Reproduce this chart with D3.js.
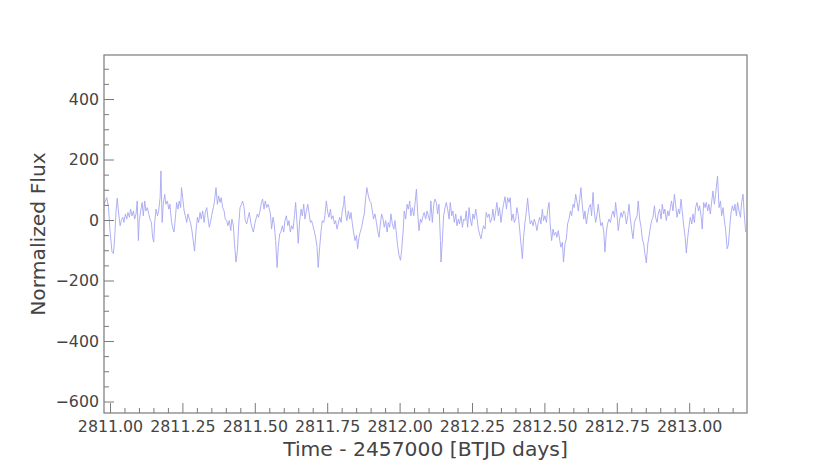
<!DOCTYPE html>
<html>
<head>
<meta charset="utf-8">
<script src="https://cdn.jsdelivr.net/npm/d3@7"></script>
<style>
  html, body { margin: 0; padding: 0; background: #fff; }
  svg { display: block; font-family: "DejaVu Sans", sans-serif; }
</style>
</head>
<body>
<svg id="chart" width="830" height="465"></svg>
<script>
// ---- Data ----
const time = [
  // segment 1
  2810.979,2810.989,2810.995,2811.000,
  2811.007,2811.012,2811.016,2811.021,2811.025,2811.030,2811.035,2811.039,2811.044,2811.048,2811.053,2811.058,2811.062,2811.067,2811.071,2811.076,2811.081,2811.085,2811.090,2811.094,
  2811.098,
  2811.101,2811.106,2811.111,2811.115,2811.120,2811.124,2811.129,2811.134,2811.138,2811.143,2811.147,
  2811.151,
  2811.154,2811.159,2811.164,2811.168,2811.173,
  2811.176,
  2811.180,2811.184,2811.189,2811.193,2811.198,2811.203,2811.207,2811.212,2811.216,2811.221,2811.226,2811.230,2811.235,2811.239,2811.244,
  2811.247,
  2811.251,2811.256,2811.260,2811.265,2811.269,2811.274,2811.279,2811.283,2811.288,2811.292,
  2811.297,2811.302,2811.306,2811.311,2811.315,2811.320,2811.325,2811.329,2811.334,2811.338,
  2811.343,2811.348,2811.352,2811.357,2811.361,2811.366,2811.371,2811.375,2811.380,2811.384,
  2811.389,2811.394,2811.398,2811.403,2811.407,2811.412,2811.417,2811.421,2811.426,2811.430,
  2811.435,2811.440,2811.444,2811.449,2811.454,2811.458,2811.463,2811.467,2811.472,2811.477,
  2811.481,2811.486,2811.490,2811.495,2811.500,2811.504,2811.509,2811.513,2811.518,2811.523,
  2811.527,2811.532,2811.536,2811.541,2811.546,
  // segment 2
  2811.549,2811.554,2811.558,2811.563,2811.567,2811.572,2811.577,2811.581,2811.586,2811.590,
  2811.595,2811.600,2811.604,2811.609,2811.614,2811.618,2811.623,2811.627,2811.632,2811.637,
  2811.641,2811.646,2811.650,2811.655,2811.660,2811.664,2811.669,2811.673,2811.678,2811.683,
  2811.687,2811.692,2811.696,2811.701,2811.706,2811.710,2811.715,2811.719,2811.724,2811.729,
  2811.733,2811.738,2811.742,2811.747,2811.752,2811.756,2811.761,2811.765,2811.770,2811.775,
  2811.779,2811.784,2811.788,2811.793,2811.798,2811.802,2811.807,
  2811.809,
  2811.814,2811.818,2811.823,2811.828,2811.832,2811.837,2811.841,2811.846,2811.851,2811.855,
  2811.860,2811.864,2811.869,2811.874,2811.878,2811.883,2811.887,2811.892,2811.897,2811.901,
  2811.906,2811.910,2811.915,2811.920,2811.924,2811.929,2811.933,2811.938,2811.943,2811.947,
  2811.952,2811.957,2811.961,2811.966,2811.970,2811.975,2811.980,2811.984,2811.989,2811.993,
  2811.998,2812.003,2812.007,2812.012,2812.016,2812.021,2812.026,2812.030,2812.035,2812.039,
  2812.044,2812.049,2812.053,2812.058,2812.062,2812.067,2812.072,2812.076,2812.081,2812.085,
  2812.090,2812.095,2812.099,
  // segment 3
  2812.104,2812.108,2812.113,2812.118,2812.122,2812.127,2812.131,2812.136,2812.141,
  2812.143,
  2812.148,2812.152,2812.157,2812.161,2812.166,2812.171,2812.175,2812.180,2812.184,2812.189,
  2812.194,2812.198,2812.203,2812.207,2812.212,2812.217,2812.221,2812.226,2812.230,2812.235,
  2812.240,2812.244,2812.249,2812.253,2812.258,2812.263,2812.267,2812.272,2812.276,2812.281,
  2812.286,2812.290,2812.295,2812.299,2812.304,2812.309,2812.313,2812.318,2812.322,2812.327,
  2812.332,2812.336,2812.341,2812.345,2812.350,2812.355,2812.359,2812.364,2812.369,2812.373,
  2812.378,2812.382,2812.387,2812.392,2812.396,2812.401,2812.405,2812.410,2812.415,2812.419,
  2812.424,2812.428,2812.433,2812.438,2812.442,2812.447,2812.451,2812.456,2812.461,2812.465,
  2812.470,2812.474,2812.479,2812.484,2812.488,2812.493,2812.497,2812.502,2812.507,2812.511,
  2812.516,2812.520,2812.525,2812.530,2812.534,2812.539,2812.543,2812.548,2812.553,2812.557,
  2812.562,2812.566,2812.571,2812.576,2812.580,2812.585,2812.590,2812.594,2812.599,2812.603,
  2812.608,2812.613,2812.617,2812.622,2812.626,2812.631,2812.636,2812.640,2812.645,2812.649,
  2812.654,
  // segment 4
  2812.659,2812.663,2812.668,2812.672,2812.677,2812.682,2812.686,2812.691,2812.695,2812.700,
  2812.705,2812.709,2812.714,2812.718,2812.723,2812.728,2812.732,2812.737,2812.742,2812.746,
  2812.751,2812.755,2812.760,2812.765,2812.769,2812.774,2812.778,2812.783,2812.788,2812.792,
  2812.797,2812.801,2812.806,2812.811,2812.815,2812.820,2812.824,2812.829,2812.834,2812.838,
  2812.843,2812.847,2812.852,2812.857,2812.861,2812.866,2812.870,2812.875,2812.880,2812.884,
  2812.889,2812.893,2812.898,2812.903,2812.907,2812.912,2812.916,2812.921,2812.926,2812.930,
  2812.935,2812.939,2812.944,2812.949,2812.953,2812.958,2812.963,2812.967,2812.972,2812.976,
  2812.981,2812.986,2812.990,2812.995,2812.999,2813.004,2813.009,2813.013,2813.018,2813.022,
  2813.027,2813.032,2813.036,2813.041,2813.045,2813.050,2813.055,2813.059,2813.064,2813.068,
  2813.073,2813.078,2813.082,2813.087,2813.091,2813.096,
  2813.098,
  2813.103,2813.108,2813.112,2813.117,2813.121,2813.126,2813.131,2813.135,2813.140,2813.144,
  2813.149,2813.154,2813.158,2813.163,2813.167,2813.172,2813.177,2813.181,2813.186,2813.190,
  2813.195
];

const flux = [
  // segment 1
  52,74,41,-35,
  -106,-111,-62,30,72,20,-19,-2,9,-8,20,3,25,9,36,14,30,3,20,63,
  -68,
  -2,30,58,14,63,30,41,20,3,-8,-57,
  -73,
  -13,36,14,30,74,
  162,
  -8,52,85,52,63,36,52,-2,-24,-40,9,58,36,63,41,
  107,
  74,30,14,-8,20,3,-13,-35,-73,-103,
  -35,9,-8,25,3,30,-8,25,41,9,
  -24,-2,20,41,63,107,52,80,58,74,
  41,30,3,-2,-19,-2,-35,3,-19,-79,
  -139,-101,-24,41,52,63,41,-2,-13,9,
  25,-8,-24,-40,-13,3,20,9,30,58,
  69,36,63,41,52,
  // segment 2
  41,20,-30,9,-13,-68,-157,-90,-46,-40,
  -19,-40,-2,14,-19,-2,-40,-19,-30,14,
  58,-13,-77,-2,36,14,52,3,30,52,
  25,-8,-2,-19,-40,-57,-90,-157,-90,-35,
  -2,-8,14,63,25,9,36,3,14,-13,
  -2,-30,-13,9,-8,30,52,
  80,
  20,-2,30,3,25,-13,-40,-68,-51,-95,
  -57,-40,-24,3,20,74,107,80,63,58,
  30,3,20,-8,-35,-57,-19,20,3,-24,
  -2,-40,-8,-24,20,-13,-30,-2,-46,-84,
  -117,-133,-101,-40,30,3,52,36,63,14,
  41,14,52,102,30,-35,3,-8,14,25,
  3,30,14,
  // segment 3
  -2,63,-8,52,69,58,20,52,-68,
  -139,
  -62,14,41,58,36,3,58,14,30,-8,
  20,-19,3,-13,14,-24,3,-2,30,-24,
  41,3,-19,20,3,36,9,-30,-46,-62,
  -35,-19,-30,25,9,20,-8,3,36,-2,
  30,58,14,41,-8,30,52,77,36,74,
  58,74,-2,20,-8,3,41,14,-35,-79,
  -128,-57,-8,30,72,20,-13,-2,-19,3,
  -13,-35,-8,9,-13,36,-2,14,-8,30,
  58,-13,-68,-30,-51,-40,-57,-35,-68,-90,
  -73,-139,-79,-62,-13,3,30,14,52,41,
  85,58,30,69,107,47,3,30,-13,14,
  41,
  // segment 4
  52,14,91,30,-8,20,52,9,-19,-8,
  -40,-106,-40,-13,3,-8,14,30,9,58,
  14,-35,3,25,9,30,25,-13,14,52,
  3,-30,-62,-8,3,14,63,3,-24,-62,
  -79,-111,-142,-79,-57,-24,-2,9,47,9,
  -8,20,36,3,52,20,36,-2,30,14,
  41,63,30,85,52,9,36,20,69,30,
  -19,-57,-109,-57,-24,9,-13,20,-8,41,
  58,30,47,14,-30,58,41,58,30,52,
  20,63,96,52,85,129,
  145,
  41,63,14,41,3,-35,-95,-84,-24,20,
  47,30,52,14,58,30,9,58,85,20,
  -40
];

const xMajorTicks = [2811.00, 2811.25, 2811.50, 2811.75, 2812.00, 2812.25, 2812.50, 2812.75, 2813.00];
const yMajorTicks = [-600, -400, -200, 0, 200, 400];
const xLabel = "Time - 2457000 [BTJD days]";
const yLabel = "Normalized Flux";

// ---- Layout ----
const W = 830, H = 465;
const plot = { left: 104, right: 747, top: 55, bottom: 413 };
const frameColor = "#7a7a7a";
const textColor = "#444444";
const lineColor = "#a6a6f4";

const svg = d3.select("#chart");

const x = d3.scaleLinear().domain([2810.9793, 2813.1996]).range([plot.left, plot.right]);
const y = d3.scaleLinear().domain([-638, 545.5]).range([plot.bottom, plot.top]);

// minor ticks
const xMinor = d3.range(2811.0, 2813.2, 0.05).map(v => +v.toFixed(2)).filter(v => !xMajorTicks.some(m => Math.abs(m - v) < 1e-6));
const yMinor = d3.range(-600, 546, 50).filter(v => !yMajorTicks.includes(v));

// clip
svg.append("defs").append("clipPath").attr("id", "clip")
  .append("rect").attr("x", plot.left).attr("y", plot.top)
  .attr("width", plot.right - plot.left).attr("height", plot.bottom - plot.top);

const n = Math.min(time.length, flux.length);
const pts = d3.range(n).map(i => [time[i], flux[i]]);

svg.append("path")
  .datum(pts)
  .attr("clip-path", "url(#clip)")
  .attr("fill", "none")
  .attr("stroke", lineColor)
  .attr("stroke-width", 0.9)
  .attr("stroke-linejoin", "round")
  .attr("d", d3.line().x(d => x(d[0])).y(d => y(d[1])));

// X axis (ticks inward)
const gx = svg.append("g").attr("transform", `translate(0,${plot.bottom})`);
gx.call(d3.axisBottom(x).tickValues(xMajorTicks).tickFormat(d3.format(".2f"))
  .tickSizeInner(-10).tickSizeOuter(0).tickPadding(8));
const gxm = svg.append("g").attr("transform", `translate(0,${plot.bottom})`);
gxm.call(d3.axisBottom(x).tickValues(xMinor).tickFormat("").tickSizeInner(-5).tickSizeOuter(0));

// Y axis
const gy = svg.append("g").attr("transform", `translate(${plot.left},0)`);
gy.call(d3.axisLeft(y).tickValues(yMajorTicks).tickFormat(d => d < 0 ? "\u2212" + Math.abs(d) : String(d))
  .tickSizeInner(-10).tickSizeOuter(0).tickPadding(5));
const gym = svg.append("g").attr("transform", `translate(${plot.left},0)`);
gym.call(d3.axisLeft(y).tickValues(yMinor).tickFormat("").tickSizeInner(-5).tickSizeOuter(0));

[gx, gxm, gy, gym].forEach(g => {
  g.select(".domain").remove();
  g.selectAll(".tick line").attr("stroke", frameColor).attr("stroke-width", 1);
  g.selectAll(".tick text").attr("fill", textColor).attr("font-size", 15.8)
    .attr("font-family", "DejaVu Sans, sans-serif");
});

// frame
svg.append("rect")
  .attr("x", plot.left).attr("y", plot.top)
  .attr("width", plot.right - plot.left).attr("height", plot.bottom - plot.top)
  .attr("fill", "none").attr("stroke", frameColor).attr("stroke-width", 1.2);

// axis titles
svg.append("text")
  .attr("x", (plot.left + plot.right) / 2).attr("y", 456)
  .attr("text-anchor", "middle").attr("fill", textColor)
  .attr("font-size", 20.3).text(xLabel);

svg.append("text")
  .attr("transform", `translate(45,${(plot.top + plot.bottom) / 2}) rotate(-90)`)
  .attr("text-anchor", "middle").attr("fill", textColor)
  .attr("font-size", 20.3).text(yLabel);
</script>
</body>
</html>
